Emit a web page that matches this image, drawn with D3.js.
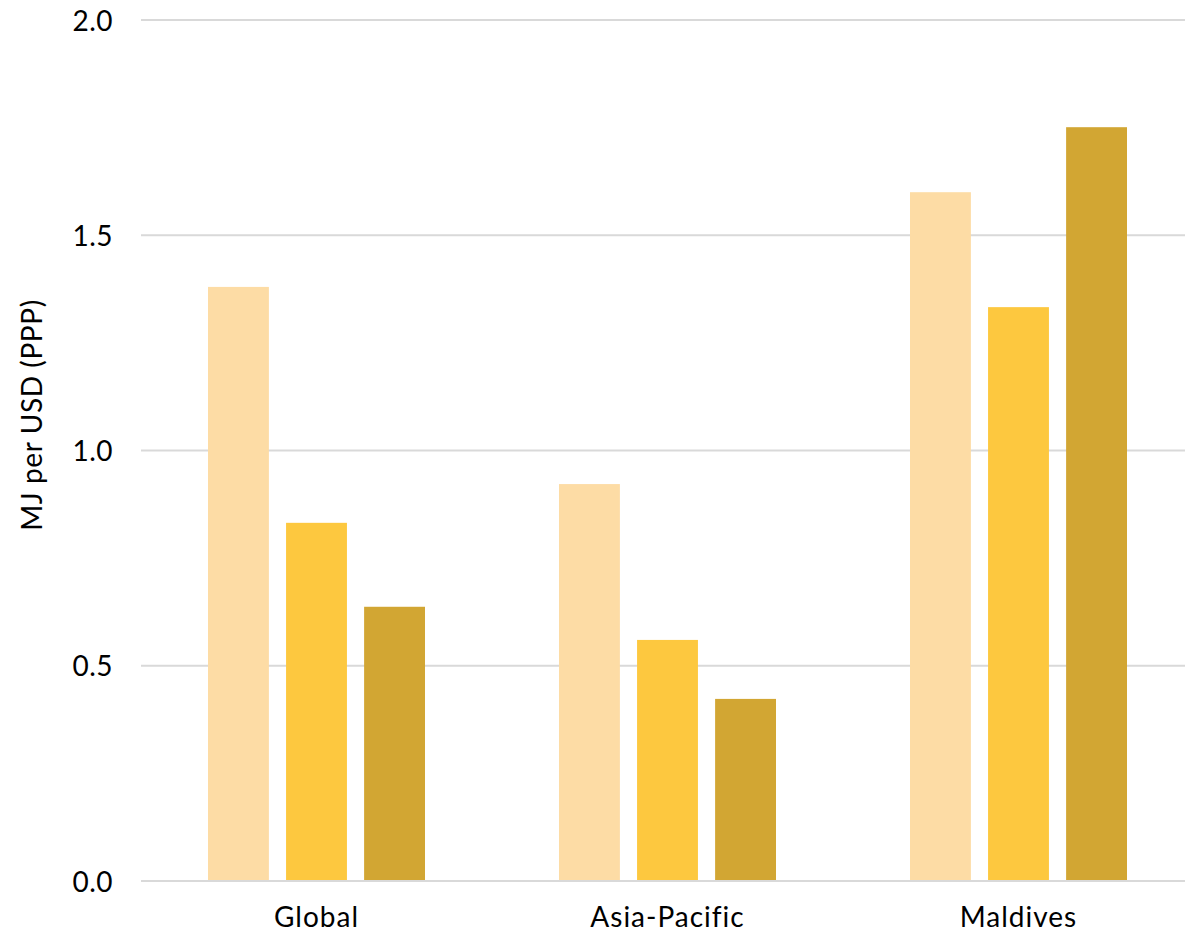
<!DOCTYPE html>
<html>
<head>
<meta charset="utf-8">
<script src="https://cdn.jsdelivr.net/npm/d3@7"></script>
<style>
  html, body { margin: 0; padding: 0; background: #ffffff; }
  svg { display: block; font-family: "Lato", "Open Sans", sans-serif; }
</style>
</head>
<body>
<svg id="chart" width="1185" height="934"></svg>
<script>
const categories = ["Global", "Asia-Pacific", "Maldives"];
const seriesNames = ["Series 1", "Series 2", "Series 3"];
const series1 = [1.38, 0.922, 1.60];
const series2 = [0.832, 0.560, 1.333];
const series3 = [0.637, 0.423, 1.751];
const seriesColors = ["#FDDCA5", "#FDC83F", "#D2A633"];
const yTicks = [0.0, 0.5, 1.0, 1.5, 2.0];
const yLabel = "MJ per USD (PPP)";

(function () {
const allSeries = [series1, series2, series3];
const data = categories.map((c, i) => ({
  category: c,
  values: seriesNames.map((s, j) => ({ key: s, value: allSeries[j][i], color: seriesColors[j] }))
}));

const svg = d3.select("#chart");
const mLeft = 141, mRight = 1194, mTop = 20, mBottom = 881;
const fontFam = "Lato, 'Open Sans', sans-serif";

const x0 = d3.scaleBand().domain(categories).range([mLeft, mRight]).paddingInner(0).paddingOuter(0);
const groupPad = 67;
const x1 = d3.scaleBand().domain(seriesNames).range([groupPad, x0.bandwidth() - groupPad]).paddingInner(0.22).paddingOuter(0);
const y = d3.scaleLinear().domain([0, 2.0]).range([mBottom, mTop]);

// gridlines
svg.append("g")
  .selectAll("line")
  .data(yTicks)
  .join("line")
  .attr("x1", mLeft).attr("x2", 1185)
  .attr("y1", d => y(d)).attr("y2", d => y(d))
  .attr("stroke", "#d9d9d9").attr("stroke-width", 2);

// y axis labels
const yAxis = d3.axisLeft(y).tickValues(yTicks).tickFormat(d3.format(".1f")).tickSize(0).tickPadding(0);
const yg = svg.append("g").attr("transform", `translate(113,0)`).call(yAxis);
yg.select(".domain").remove();
yg.selectAll("text").attr("font-size", 28).attr("fill", "#000").attr("font-family", fontFam)
  .attr("letter-spacing", 0.5).attr("dy", "0.36em");

// bars
const groups = svg.append("g").selectAll("g")
  .data(data)
  .join("g")
  .attr("transform", d => `translate(${x0(d.category)},0)`);

groups.selectAll("rect")
  .data(d => d.values)
  .join("rect")
  .attr("x", d => x1(d.key))
  .attr("width", x1.bandwidth())
  .attr("y", d => y(d.value))
  .attr("height", d => y(0) - y(d.value) - 1)
  .attr("fill", d => d.color);

// x axis labels
const xAxis = d3.axisBottom(x0).tickSize(0).tickPadding(0);
const xg = svg.append("g").attr("transform", `translate(0,927)`).call(xAxis);
xg.select(".domain").remove();
xg.selectAll("text").attr("font-size", 28).attr("fill", "#000").attr("font-family", fontFam)
  .attr("letter-spacing", 1).attr("dy", "0");

// y axis title
svg.append("text")
  .attr("transform", `translate(42,415) rotate(-90)`)
  .attr("text-anchor", "middle")
  .attr("font-size", 28)
  .attr("letter-spacing", 0.6)
  .attr("fill", "#000")
  .text(yLabel);
})();
</script>
</body>
</html>
